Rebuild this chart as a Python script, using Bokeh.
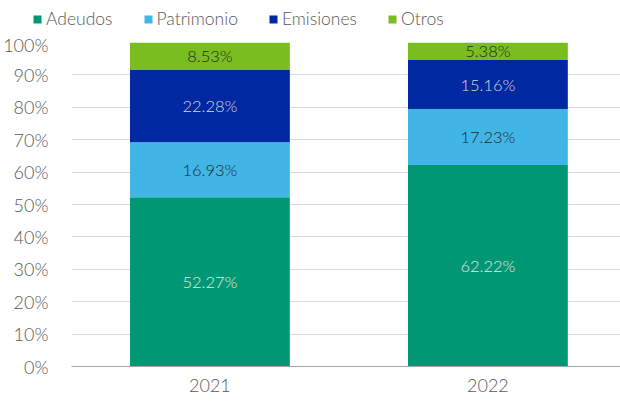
from bokeh.plotting import figure
from bokeh.layouts import column
from bokeh.models import (Range1d, FixedTicker, PrintfTickFormatter, Legend, LegendItem,
                          ColumnDataSource)
from bokeh.embed import file_html
from bokeh.resources import INLINE
from bokeh.core.properties import value

years = ["2021", "2022"]
adeudos = [52.27, 62.22]
patrimonio = [16.93, 17.23]
emisiones = [22.28, 15.16]
otros = [8.53, 5.38]
series_names = ["Adeudos", "Patrimonio", "Emisiones", "Otros"]
colors = ["#009874", "#41B6E6", "#0028A0", "#7ABD1F"]
label_colors = ["#E6E6E6", "#262626", "#D9D9D9", "#262626"]
y_ticks = [0, 10, 20, 30, 40, 50, 60, 70, 80, 90, 100]

FONT = "Lato Light"
x = [0, 1]

data = {"x": x}
for name, vals in zip(series_names, [adeudos, patrimonio, emisiones, otros]):
    data[name] = vals
src = ColumnDataSource(data)

# ---- legend strip (its own small plot; proxy bars kept outside its visible ranges) ----
lg = figure(width=620, height=33, x_range=Range1d(5, 6), y_range=Range1d(500, 501),
            output_backend="svg", toolbar_location=None,
            x_axis_location=None, y_axis_location=None,
            min_border_left=0, min_border_right=0, min_border_top=0, min_border_bottom=0)
lg.frame_align = False
lg.outline_line_color = None
lg.xgrid.grid_line_color = None
lg.ygrid.grid_line_color = None
proxy = lg.vbar_stack(series_names, x="x", width=0.575, color=colors, source=src, line_color=None)
legend = Legend(items=[LegendItem(label=n, renderers=[r]) for n, r in zip(series_names, proxy)],
                orientation="horizontal", location=(32, 4), padding=0, margin=0,
                spacing=30, glyph_width=10, glyph_height=10, label_standoff=4,
                label_text_font=FONT, label_text_font_size="17.5px", label_text_color="#595959",
                label_height=21, border_line_color=None, background_fill_alpha=0)
lg.add_layout(legend, "center")

# ---- main chart ----
p = figure(width=620, height=368, x_range=Range1d(-0.498, 1.477), y_range=Range1d(0, 100),
           output_backend="svg", toolbar_location=None,
           min_border_left=69, min_border_right=0, min_border_top=9, min_border_bottom=35)
p.frame_align = False
p.outline_line_color = None

p.vbar_stack(series_names, x="x", width=0.575, color=colors, source=src, line_color=None)

series_vals = [adeudos, patrimonio, emisiones, otros]
bottoms = [0.0] * len(years)
for name, vals, lc in zip(series_names, series_vals, label_colors):
    mids = [b + v / 2 for b, v in zip(bottoms, vals)]
    texts = ["%.2f%%" % v for v in vals]
    s = ColumnDataSource(dict(x=x, y=mids, t=texts))
    p.text(x="x", y="y", text="t", source=s, text_align="center", text_baseline="middle",
           text_font=value(FONT), text_font_size="16.5px", text_color=lc)
    bottoms = [b + v for b, v in zip(bottoms, vals)]

p.yaxis.ticker = FixedTicker(ticks=y_ticks)
p.yaxis.formatter = PrintfTickFormatter(format="%d%%")
p.yaxis.axis_line_color = None
p.yaxis.major_tick_line_color = None
p.yaxis.minor_tick_line_color = None
p.yaxis.major_label_standoff = 17
p.yaxis.major_label_text_font = FONT
p.yaxis.major_label_text_font_size = "18px"
p.yaxis.major_label_text_color = "#595959"

p.xaxis.ticker = FixedTicker(ticks=x)
p.xaxis.major_label_overrides = {0: years[0], 1: years[1]}
p.xaxis.axis_line_color = "#A6A6A6"
p.xaxis.major_tick_line_color = None
p.xaxis.minor_tick_line_color = None
p.xaxis.major_label_standoff = 6
p.xaxis.major_label_text_font = FONT
p.xaxis.major_label_text_font_size = "18px"
p.xaxis.major_label_text_color = "#595959"

p.xgrid.grid_line_color = None
p.ygrid.grid_line_color = "#D9D9D9"

layout = column(lg, p, spacing=0)
open("out.html", "w").write(file_html(layout, INLINE))
